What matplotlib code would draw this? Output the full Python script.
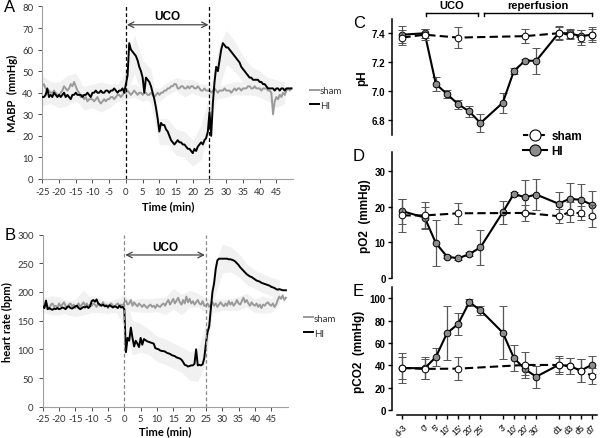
import numpy as np
import matplotlib
matplotlib.use("Agg")
import matplotlib.pyplot as plt
from matplotlib.lines import Line2D

plt.rcParams["axes.unicode_minus"] = False

# ---- panels A/B: traces sampled every 0.5 min from -25 to 49.5 ----
time_min = np.arange(-25, 50, 0.5)

mabp_hi = [38, 38, 39, 42, 38, 39, 38, 40, 39, 38, 39, 38, 39, 40, 38, 39, 38, 37, 39, 39,
           40, 39, 39, 39, 38, 39, 39, 40, 39, 38, 40, 40, 41, 40, 40, 41, 40, 40, 41, 41,
           40, 41, 41, 42, 41, 40, 41, 41, 42, 40,
           44, 48, 63, 60, 59, 58, 57, 55, 52, 50, 47, 40, 47, 46, 45, 43, 40, 37, 33, 28,
           22, 26, 25, 25, 23, 22, 20, 18, 17, 16, 17, 18, 17, 17, 16, 16, 15, 14, 14, 13,
           12, 14, 13, 15, 16, 17, 16, 18, 19, 22,
           31, 20, 35, 45, 52, 50, 55, 60, 63, 62, 61, 61, 60, 59, 58, 57, 56, 55, 54, 52,
           51, 50, 49, 48, 47, 47, 46, 46, 46, 46, 45, 45, 44, 44, 43, 42, 42, 42, 42, 41,
           42, 42, 41, 42, 42, 41, 42, 42, 42, 42]
mabp_sham = [43, 44, 42, 41, 41, 40, 40, 41, 40, 39, 39, 40, 41, 43, 42, 41, 42, 44, 43, 45,
             43, 41, 40, 38, 39, 37, 38, 36, 37, 37, 37, 36, 37, 38, 36, 35, 36, 37, 36, 37,
             37, 38, 38, 37, 38, 39, 39, 38, 39, 40,
             40, 41, 40, 39, 40, 41, 40, 39, 40, 40, 39, 40, 40, 39, 39, 40, 39, 38, 39, 40,
             39, 40, 40, 41, 41, 42, 42, 43, 43, 44, 44, 42, 42, 43, 43, 42, 42, 43, 42, 43,
             43, 42, 42, 43, 42, 41, 41, 42, 41, 41,
             41, 40, 41, 42, 41, 40, 41, 41, 41, 42, 41, 41, 41, 40, 41, 42, 41, 42, 42, 41,
             42, 42, 42, 43, 43, 42, 42, 43, 42, 42, 42, 41, 42, 42, 42, 41, 41, 40, 30, 36,
             38, 37, 39, 38, 40, 39, 41, 42, 41, 42]

hr_hi = [175, 172, 185, 170, 172, 170, 169, 171, 170, 172, 170, 171, 173, 172, 170, 174,
         175, 172, 171, 173, 175, 176, 172, 170, 172, 174, 173, 175, 172, 175,
         184, 186, 183, 187, 180, 178, 176, 178, 175, 176, 174, 177, 175, 173, 175, 174,
         172, 176, 173, 174,
         170, 95, 120, 115, 138, 120, 105, 115, 110, 104, 120, 108, 118, 116, 114, 113,
         112, 111, 110, 102, 101, 100, 98, 97, 97, 96, 94, 93, 92, 90, 89, 88, 86, 85, 84,
         82, 78, 73, 72, 70, 71, 72, 72, 75, 100, 72, 73, 72, 74, 85,
         110, 130, 140, 170, 200, 215, 240, 255, 258, 258, 258, 258, 258, 258, 257, 257,
         256, 255, 253, 250, 247, 243, 240, 237, 234, 231, 229, 227, 226, 224, 222, 220,
         219, 218, 216, 215, 214, 213, 212, 211, 209, 208, 207, 205, 204, 205, 204, 203,
         203, 203]
hr_sham = [178, 172, 182, 175, 170, 178, 180, 174, 176, 172, 180, 175, 178, 182, 176, 172,
           178, 180, 175, 178, 172, 176, 180, 174, 178, 182, 176, 180, 174, 178, 176, 180,
           178, 174, 180, 176, 178, 182, 175, 178, 172, 178, 180, 176, 174, 178, 180, 176,
           178, 175,
           182, 185, 178, 180, 186, 176, 182, 178, 175, 180, 177, 174, 178, 175, 172, 176,
           178, 174, 176, 172, 178, 175, 174, 178, 180, 176, 182, 186, 178, 183, 188, 180,
           185, 190, 182, 178, 186, 180, 192, 182, 188, 180, 184, 178, 182, 186, 180, 178,
           184, 176,
           176, 180, 174, 178, 182, 176, 180, 174, 178, 182, 178, 175, 180, 176, 184, 178,
           182, 176, 180, 186, 180, 178, 184, 190, 182, 186, 180, 176, 182, 178, 176, 180,
           174, 178, 172, 178, 176, 180, 182, 178, 176, 180, 174, 178, 186, 192, 188, 194,
           186, 190]

# SD, every 2.5 min (-25 ... 47.5)
mabp_hi_sd = [4, 4, 4, 4, 4, 4, 4, 4, 4, 4, 6, 9, 8, 8, 6, 6, 6, 6, 6, 8,
              8, 10, 8, 7, 6, 5, 5, 5, 4, 4]
mabp_sham_sd = [5, 5, 6, 7, 6, 5, 4, 4, 4, 3, 3, 3, 3, 3, 3, 3, 3, 4, 3, 3,
                3, 3, 3, 3, 3, 3, 4, 5, 5, 4]
hr_hi_sd = [10, 10, 10, 10, 10, 10, 10, 10, 10, 10, 28, 30, 25, 22, 22, 22, 22, 22, 25, 28,
            35, 28, 25, 22, 20, 18, 16, 16, 16, 16]
hr_sham_sd = [12, 15, 12, 12, 15, 22, 12, 12, 10, 10, 10, 10, 12, 12, 12, 15, 18, 18, 15, 12,
              12, 12, 10, 10, 12, 12, 12, 15, 12, 12]

# ---- panels C/D/E: blood gases ----
gas_labels = ["d-3", "0'", "5'", "10'", "15'", "20'", "25'", "3'", "10'", "20'", "30'",
              "d1", "d3", "d5", "d7"]
gas_pos = [0, 2, 3, 4, 5, 6, 7, 9, 10, 11, 12, 14, 15, 16, 17]
sham_pos = [0, 2, 5, 11, 14, 15, 16, 17]

ph_hi = [7.39, 7.40, 7.05, 6.98, 6.91, 6.86, 6.78, 6.92, 7.14, 7.21, 7.21, 7.40, 7.40, 7.38, 7.39]
ph_hi_err = [0.06, 0.03, 0.05, 0.03, 0.03, 0.04, 0.06, 0.07, 0.02, 0.01, 0.09, 0.04, 0.03, 0.04, 0.05]
ph_sham = [7.37, 7.39, 7.37, 7.38, 7.40, 7.39, 7.37, 7.39]
ph_sham_err = [0.05, 0.04, 0.07, 0.05, 0.05, 0.03, 0.05, 0.04]

po2_hi = [18.7, 16.9, 9.7, 5.9, 5.4, 6.6, 8.5, 18.4, 23.6, 22.6, 23.4, 20.8, 22.2, 21.9, 20.5]
po2_hi_err = [3.5, 3.0, 6.4, 0.5, 0.4, 0.6, 5.0, 3.3, 0.5, 4.8, 4.3, 3.4, 4.5, 4.6, 3.8]
po2_sham = [17.5, 17.5, 18.1, 18.2, 17.3, 18.4, 18.1, 17.3]
po2_sham_err = [4.7, 3.7, 3.0, 2.2, 2.0, 2.8, 2.0, 3.2]

pco2_hi = [37.6, 37.3, 47.4, 68.7, 77.0, 96.4, 89.2, 69.2, 46.5, 36.4, 29.8, 40.3, 39.4, 35.2, 40.6]
pco2_hi_err = [13.5, 10.0, 8.0, 24.0, 10.0, 3.0, 4.0, 24.0, 12.0, 5.0, 10.0, 8.0, 7.0, 10.0, 8.0]
pco2_sham = [37.6, 36.8, 37.0, 40.3, 40.3, 39.4, 35.2, 30.7]
pco2_sham_err = [9.5, 9.0, 10.0, 12.0, 6.0, 7.0, 10.0, 7.0]

fig = plt.figure(figsize=(6.0, 4.39), dpi=100)

trace_font = "Lato"
band = "#f1f1f1"


def trace_panel(rect, hi, sham, hi_sd, sham_sd, ylim, yticks, ylabel, arrow_y, text_y,
                vline_color, letter, xlabelpad):
    ax = fig.add_axes(rect)
    tc = time_min[::5]
    hi_c = np.array(hi)[::5]
    sh_c = np.array(sham)[::5]
    ax.fill_between(tc, sh_c - sham_sd, sh_c + sham_sd, color=band, lw=0, zorder=1)
    ax.fill_between(tc, hi_c - hi_sd, hi_c + hi_sd, color=band, lw=0, zorder=1)
    ax.plot(time_min, sham, color="#9a9a9a", lw=1.4, zorder=2, label="sham")
    ax.plot(time_min, hi, color="black", lw=1.4, zorder=3, label="HI")
    for x in (0, 25):
        ax.axvline(x, color=vline_color, lw=0.9, ls=(0, (3, 2)), zorder=4)
    ax.annotate("", xy=(0.3, arrow_y), xytext=(24.7, arrow_y),
                arrowprops=dict(arrowstyle="<->", color="#444444", lw=0.9,
                                shrinkA=0, shrinkB=0))
    ax.text(12.5, text_y, "UCO", ha="center", va="center", fontsize=8.5,
            fontweight="bold", family="Liberation Sans")
    ax.set_xlim(-25, 50)
    ax.set_ylim(*ylim)
    ax.set_xticks(range(-25, 50, 5))
    ax.set_yticks(yticks)
    ax.tick_params(labelsize=6.8, colors="#333333", length=3, width=0.6)
    ax.tick_params(axis="x", pad=2.5)
    for lab in ax.get_xticklabels() + ax.get_yticklabels():
        lab.set_family(trace_font)
    for s in ("top", "right"):
        ax.spines[s].set_visible(False)
    for s in ("left", "bottom"):
        ax.spines[s].set_color("#a0a0a0")
        ax.spines[s].set_linewidth(0.8)
    ax.set_xlabel("Time (min)", fontsize=8, fontweight="bold", family=trace_font,
                  labelpad=xlabelpad)
    ax.set_ylabel(ylabel, fontsize=8, fontweight="bold", family=trace_font, labelpad=3)
    fx = (10 / 600 - rect[0]) / rect[2]
    ax.text(fx, 1.0, letter, transform=ax.transAxes, fontsize=12, ha="center",
            family="Liberation Sans", va="center")
    handles = [Line2D([], [], color="#9a9a9a", lw=1.4), Line2D([], [], color="black", lw=1.4)]
    leg = ax.legend(handles, ["sham", "HI"], loc="center left", bbox_to_anchor=(1.04, 0.47),
                    frameon=False, fontsize=7, handlelength=0.9, handletextpad=0.1,
                    labelspacing=0.6, borderaxespad=0.3)
    for t in leg.get_texts():
        t.set_family(trace_font)
        t.set_color("#333333")
    return ax


trace_panel([0.0705, 0.590, 0.418, 0.393], mabp_hi, mabp_sham, mabp_hi_sd, mabp_sham_sd,
            (0, 80), range(0, 81, 10), "MABP  (mmHg)", 71.5, 75.5, "black", "A", 3)
trace_panel([0.0712, 0.0713, 0.408, 0.392], hr_hi, hr_sham, hr_hi_sd, hr_sham_sd,
            (0, 300), range(0, 301, 50), "heart rate (bpm)", 264.5, 279, "#888888", "B", 1)

# ---- blood gas panels ----
gas_font = "Liberation Sans"


def gas_panel(rect, hi, hi_err, sham, sham_err, ylim, yticks, yticklabels, ylabel, letter,
              ybound, show_x):
    ax = fig.add_axes(rect)
    ax.errorbar(gas_pos, hi, yerr=hi_err, color="black", lw=1.5, marker="o", ms=4.8,
                mfc="#8c8c8c", mec="black", mew=0.7, ecolor="#555555", elinewidth=0.9,
                capsize=2.8, capthick=0.9, zorder=3, clip_on=False)
    ax.errorbar(sham_pos, sham, yerr=sham_err, color="black", lw=1.5, ls=(0, (4, 2)),
                marker="o", ms=4.8, mfc="white", mec="black", mew=0.7, ecolor="#555555",
                elinewidth=0.9, capsize=2.8, capthick=0.9, zorder=4, clip_on=False)
    ax.set_xlim(-0.95, 17.45)
    ax.set_ylim(*ylim)
    ax.set_yticks(yticks)
    ax.set_yticklabels(yticklabels)
    ax.spines["top"].set_visible(False)
    ax.spines["right"].set_visible(False)
    ax.spines["left"].set_bounds(*ybound)
    ax.spines["left"].set_linewidth(1.1)
    ax.tick_params(axis="y", labelsize=7, length=3, width=1.0, pad=1.5)
    for lab in ax.get_yticklabels():
        lab.set_family(gas_font)
        lab.set_fontweight("bold")
    if show_x:
        ax.set_xticks(gas_pos)
        ax.set_xticklabels(gas_labels, rotation=45, ha="right", rotation_mode="anchor")
        ax.spines["bottom"].set_bounds(-0.5, 17.45)
        ax.spines["bottom"].set_linewidth(1.1)
        ax.tick_params(axis="x", labelsize=6.3, length=3, width=1.0, pad=2)
        for lab in ax.get_xticklabels():
            lab.set_family(gas_font)
    else:
        ax.spines["bottom"].set_visible(False)
        ax.set_xticks([])
    ax.set_ylabel(ylabel, fontsize=8.5, fontweight="bold", family=gas_font, labelpad=3)
    ax.text(-0.19, 0.97, letter, transform=ax.transAxes, fontsize=12, family=gas_font,
            va="center")
    return ax


ax_c = gas_panel([0.653, 0.691, 0.342, 0.264], ph_hi, ph_hi_err, ph_sham, ph_sham_err,
                 (6.7, 7.5), [6.8, 7.0, 7.2, 7.4], ["6.8", "7.0", "7.2", "7.4"], "pH", "C",
                 (6.7, 7.5), False)
gas_panel([0.653, 0.3656, 0.342, 0.286], po2_hi, po2_hi_err, po2_sham, po2_sham_err,
          (0, 35.4), [0, 10, 20, 30], ["0", "10", "20", "30"], "pO2  (mmHg)", "D",
          (0, 35.4), False)
gas_panel([0.653, 0.053, 0.342, 0.291], pco2_hi, pco2_hi_err, pco2_sham, pco2_sham_err,
          (-4.2, 110), [0, 20, 40, 60, 80, 100], ["0", "20", "40", "60", "80", "100"],
          "pCO2  (mmHg)", "E", (0, 110), True)

# brackets above panel C
trans = ax_c.get_xaxis_transform()
for x0, x1, label in ((2.1, 6.8, "UCO"), (7.3, 17.0, "reperfusion")):
    ax_c.plot([x0, x1], [1.047, 1.047], color="black", lw=1.0, transform=trans, clip_on=False)
    for x in (x0, x1):
        ax_c.plot([x, x], [1.047, 1.025], color="black", lw=1.0, transform=trans,
                  clip_on=False)
    ax_c.text((x0 + x1) / 2, 1.115, label, transform=trans, ha="center", va="center",
              fontsize=8, fontweight="bold", family=gas_font)

# legend for gas panels
leg_handles = [
    Line2D([], [], color="black", lw=1.5, ls=(0, (2.5, 1.5)), marker="o", ms=8,
           mfc="white", mec="black", mew=0.8),
    Line2D([], [], color="black", lw=1.5, marker="o", ms=8, mfc="#8c8c8c", mec="black",
           mew=0.8),
]
fig.legend(leg_handles, ["sham", "HI"], loc="upper left", bbox_to_anchor=(0.862, 0.715),
           frameon=False, handlelength=2.0, handletextpad=0.4, labelspacing=0.25,
           prop={"family": gas_font, "weight": "bold", "size": 8.5}, borderpad=0)

fig.savefig("out.png", dpi=100)
